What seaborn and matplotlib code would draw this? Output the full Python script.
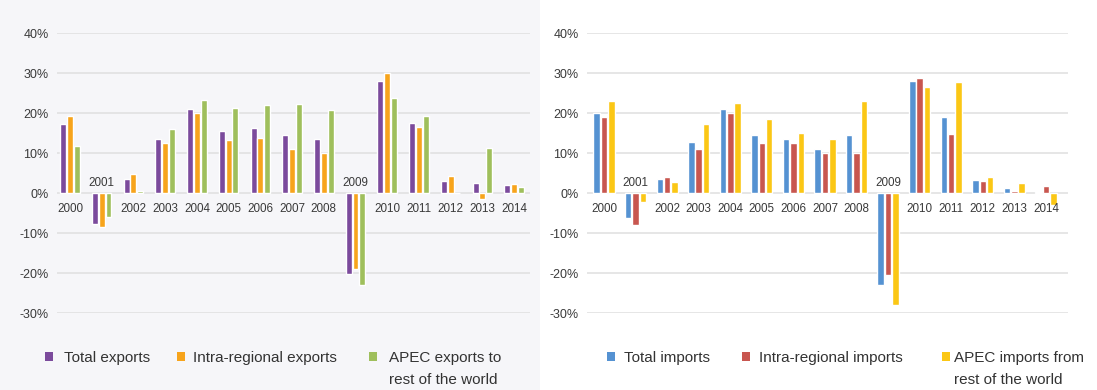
import matplotlib
matplotlib.use("Agg")
import matplotlib.pyplot as plt
from matplotlib.patches import Rectangle
from matplotlib.ticker import FuncFormatter
import pandas as pd
import seaborn as sns

# ---- data: annual growth, % ----
years = [str(y) for y in range(2000, 2015)]

export_series = ["Total exports", "Intra-regional exports", "APEC exports to\nrest of the world"]
total_exports = [17.2, -7.8, 3.5, 13.4, 20.9, 15.5, 16.2, 14.5, 13.4, -20.3, 28.1, 17.4, 2.9, 2.6, 2.0]
intra_exports = [19.3, -8.6, 4.8, 12.4, 20.1, 13.3, 13.8, 11.0, 9.9, -19.1, 30.1, 16.4, 4.3, -1.5, 2.2]
rest_exports = [11.8, -6.0, 0.5, 16.0, 23.3, 21.2, 22.0, 22.2, 20.8, -23.0, 23.7, 19.3, 0.0, 11.3, 1.6]

import_series = ["Total imports", "Intra-regional imports", "APEC imports from\nrest of the world"]
total_imports = [20.1, -6.3, 3.5, 12.8, 20.9, 14.4, 13.4, 11.0, 14.4, -22.9, 28.0, 19.0, 3.3, 1.3, 0.2]
intra_imports = [18.9, -7.9, 4.0, 11.0, 20.1, 12.6, 12.6, 10.1, 10.0, -20.4, 28.7, 14.7, 3.0, 0.5, 1.8]
rest_imports = [23.1, -2.3, 2.7, 17.2, 22.5, 18.5, 15.0, 13.4, 22.9, -28.1, 26.6, 27.8, 4.1, 2.5, -2.9]

export_colors = ["#7b4a9c", "#f7a41c", "#9fbf5c"]
import_colors = ["#5592d2", "#c8564f", "#fbc715"]

y_ticks = [-30, -20, -10, 0, 10, 20, 30, 40]

sns.set_theme(style="white")
plt.rcParams["font.family"] = ["Liberation Sans", "DejaVu Sans"]

W, H = 1097, 390
fig = plt.figure(figsize=(W / 100, H / 100), dpi=100)
fig.patch.set_facecolor("white")
# soft grey panel behind the exports chart
fig.patches.append(Rectangle((0, 0), 540 / W, 1, transform=fig.transFigure,
                             facecolor="#f6f6f9", edgecolor="none", zorder=-10))


def long_frame(names, columns):
    rows = []
    for name, vals in zip(names, columns):
        for yr, v in zip(years, vals):
            rows.append({"year": yr, "series": name, "value": v})
    return pd.DataFrame(rows)


def draw_panel(rect, names, columns, colors, width, xlim):
    ax = fig.add_axes(rect)
    ax.set_facecolor("none")
    df = long_frame(names, columns)
    sns.barplot(data=df, x="year", y="value", hue="series", order=years,
                hue_order=names, palette=colors, saturation=1, width=width,
                gap=0.12, errorbar=None, legend=False, ax=ax, zorder=3)
    ax.set_ylim(-30, 40)
    ax.set_xlim(*xlim)
    ax.set_yticks(y_ticks)
    ax.yaxis.set_major_formatter(FuncFormatter(lambda v, _: f"{int(v)}%"))
    ax.tick_params(axis="y", length=0, pad=6, labelsize=9, labelcolor="#3a3a3a")
    ax.set_xticks([])
    ax.set_xlabel("")
    ax.set_ylabel("")
    ax.yaxis.grid(True, color="#e1e1e1", linewidth=1.2)
    ax.set_axisbelow(True)
    for s in ax.spines.values():
        s.set_visible(False)
    # year labels sit below the zero line, or above it when the group falls
    first = columns[0]
    for i, yr in enumerate(years):
        off = 7 if first[i] < 0 else -11.5
        ax.annotate(yr, xy=(i, 0), xytext=(0, off), textcoords="offset points",
                    ha="center", va="center", fontsize=8.4, color="#3a3a3a",
                    zorder=5)
    return ax


top_px, bot_px = 33, 313
ax_h = (bot_px - top_px) / H
ax_y = 1 - bot_px / H

draw_panel([57 / W, ax_y, (530 - 57) / W, ax_h], export_series,
           [total_exports, intra_exports, rest_exports], export_colors,
           0.64, (-0.41, 14.5))
draw_panel([587 / W, ax_y, (1068 - 587) / W, ax_h], import_series,
           [total_imports, intra_imports, rest_imports], import_colors,
           0.70, (-0.54, 14.70))


def draw_key(names, colors, square_x, text_x):
    baseline_px, line_step = 362, 22
    for name, c, sx, tx in zip(names, colors, square_x, text_x):
        fig.patches.append(Rectangle((sx / W, 1 - 361 / H), 8 / W, 9 / H,
                                     transform=fig.transFigure,
                                     facecolor=c, edgecolor="none"))
        for k, line in enumerate(name.split("\n")):
            fig.text(tx / W, 1 - (baseline_px + k * line_step) / H, line,
                     ha="left", va="baseline", fontsize=11, color="#333333")


draw_key(export_series, export_colors, [45, 177, 369], [64, 193, 389])
draw_key(import_series, import_colors, [607, 742, 942], [624, 759, 954])

fig.savefig("out.png", dpi=100)
